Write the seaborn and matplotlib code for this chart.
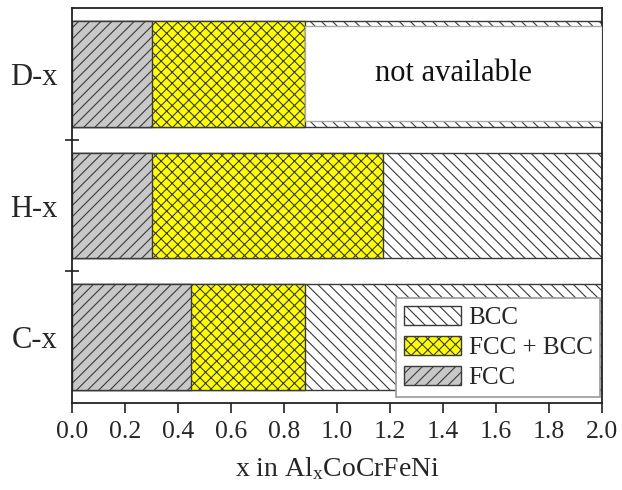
import matplotlib
matplotlib.use("Agg")
import matplotlib.pyplot as plt
from matplotlib.patches import Patch
from matplotlib.ticker import FixedLocator
import seaborn as sns
import pandas as pd
import numpy as np

# ---- data ----
categories = ["D-x", "H-x", "C-x"]
fcc_end = [0.30, 0.30, 0.45]          # FCC region: 0 -> fcc_end
fccbcc_end = [0.88, 1.175, 0.88]      # FCC+BCC region: fcc_end -> fccbcc_end
bcc_end = [2.0, 2.0, 2.0]             # BCC region: fccbcc_end -> bcc_end
not_available = [True, False, False]  # BCC region not available
x_ticks = [0.0, 0.2, 0.4, 0.6, 0.8, 1.0, 1.2, 1.4, 1.6, 1.8, 2.0]
legend_labels = ["BCC", "FCC + BCC", "FCC"]

sns.set_theme(style="white")
plt.rcParams["font.family"] = ["Liberation Serif", "DejaVu Serif"]
plt.rcParams["mathtext.fontset"] = "custom"
plt.rcParams["mathtext.rm"] = "Liberation Serif"
plt.rcParams["mathtext.it"] = "Liberation Serif:italic"
plt.rcParams["hatch.linewidth"] = 0.8
plt.rcParams["hatch.color"] = "#3a3a3a"

df = pd.DataFrame({"cat": categories, "fcc": fcc_end,
                   "fccbcc": fccbcc_end, "bcc": bcc_end})

fig = plt.figure(figsize=(6.22, 4.9), dpi=100)
ax = fig.add_axes([0.1158, 0.1776, 0.852, 0.806])

edge = "#3a3a3a"
styles = {
    "bcc": dict(color="white", hatch="\\\\\\"),
    "fccbcc": dict(color="#ffff00", hatch="xxx"),
    "fcc": dict(color="#c8c8c8", hatch="///"),
}
for col in ["bcc", "fccbcc", "fcc"]:
    sns.barplot(data=df, x=col, y="cat", order=categories, orient="h",
                width=0.8, ax=ax, color=styles[col]["color"],
                saturation=1, edgecolor=edge, linewidth=1.0,
                hatch=styles[col]["hatch"])

# "not available" overlay
for i, (na, start, end) in enumerate(zip(not_available, fccbcc_end, bcc_end)):
    if na:
        ax.barh(i, end - start, left=start, height=0.72, color="white",
                edgecolor="#aaaaaa", linewidth=1.0, zorder=3)
        ax.text((start + end) / 2, i, "not available", ha="center",
                va="center", fontsize=22, zorder=4, color="#111111")

ax.set_xlim(0, 2.0)
ax.set_ylim(2.5, -0.5)
ax.set_xticks(x_ticks)
ax.set_xticklabels([f"{t:.1f}" for t in x_ticks], fontsize=18.5)
ax.set_yticks(range(len(categories)))
ax.set_yticklabels(categories, fontsize=22)
ax.yaxis.set_minor_locator(FixedLocator([0.5, 1.5]))
ax.tick_params(axis="y", which="major", length=0, pad=10.5)
ax.tick_params(axis="y", which="minor", length=10, direction="inout",
               width=1.2, color="#222222", left=True)
ax.tick_params(axis="x", which="major", length=7, direction="out",
               width=1.2, color="#222222", bottom=True, pad=6)
ax.set_xlabel(r"x in Al$_\mathrm{x}$CoCrFeNi", fontsize=20, labelpad=9)
ax.set_ylabel("")
for s in ax.spines.values():
    s.set_visible(True)
    s.set_color("#222222")
    s.set_linewidth(1.3)

handles = [
    Patch(facecolor="white", edgecolor=edge, hatch="\\\\\\", linewidth=1.0),
    Patch(facecolor="#ffff00", edgecolor=edge, hatch="xxx", linewidth=1.0),
    Patch(facecolor="#c8c8c8", edgecolor=edge, hatch="///", linewidth=1.0),
]
leg = ax.legend(handles, legend_labels, loc="lower right", fontsize=18,
                frameon=True, fancybox=False, framealpha=1,
                edgecolor="#999999", handlelength=2.3, handleheight=0.8,
                handletextpad=0.3, labelspacing=0.28, borderpad=0.3,
                borderaxespad=0,
                bbox_to_anchor=(600 / 622, 1 - 397 / 490),
                bbox_transform=fig.transFigure)
leg.get_frame().set_linewidth(1.2)

fig.savefig("out.png", dpi=100)
